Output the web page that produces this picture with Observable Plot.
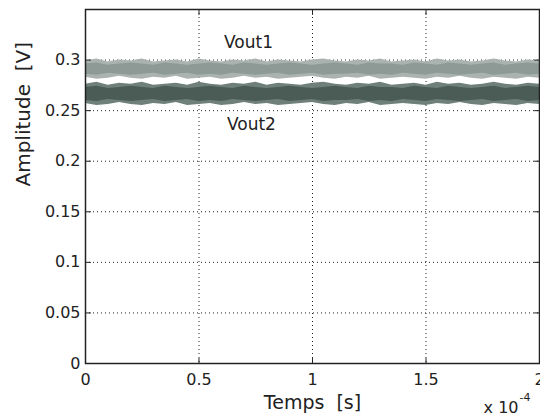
<!DOCTYPE html>
<html>
<head>
<meta charset="utf-8">
<script src="https://cdn.jsdelivr.net/npm/d3@7"></script>
<script src="https://cdn.jsdelivr.net/npm/@observablehq/plot@0.6"></script>
<style>
  html, body { margin: 0; padding: 0; background: #fff; }
  #chart svg { display: block; }
</style>
</head>
<body>
<div id="chart"></div>
<script>
// time axis in units of 1e-4 s
const time = [0,0.05,0.1,0.15,0.2,0.25,0.3,0.35,0.4,0.45,0.5,0.55,0.6,0.65,0.7,0.75,0.8,0.85,0.9,0.95,1,
  1.05,1.1,1.15,1.2,1.25,1.3,1.35,1.4,1.45,1.5,1.55,1.6,1.65,1.7,1.75,1.8,1.85,1.9,1.95,2];

// Vout1 noise envelope (outer and dense core), in V
const vout1Top = [0.299,0.301,0.298,0.300,0.299,0.301,0.298,0.299,0.300,0.298,
  0.301,0.299,0.298,0.300,0.299,0.301,0.298,0.300,0.299,0.298,
  0.300,0.301,0.299,0.298,0.300,0.299,0.301,0.298,0.299,0.300,
  0.298,0.301,0.299,0.300,0.298,0.299,0.301,0.299,0.298,0.300,0.299];
const vout1Bottom = [0.283,0.281,0.282,0.284,0.282,0.281,0.283,0.282,0.284,0.281,
  0.282,0.283,0.281,0.282,0.284,0.282,0.283,0.281,0.282,0.283,
  0.284,0.282,0.281,0.283,0.282,0.284,0.281,0.282,0.283,0.282,
  0.281,0.283,0.282,0.284,0.282,0.281,0.283,0.282,0.281,0.283,0.282];
const vout1CoreTop = [0.296,0.297,0.295,0.296,0.297,0.296,0.295,0.297,0.296,0.295,
  0.296,0.297,0.296,0.295,0.297,0.296,0.295,0.296,0.297,0.296,
  0.295,0.296,0.297,0.296,0.295,0.297,0.296,0.296,0.295,0.297,
  0.296,0.295,0.297,0.296,0.295,0.296,0.297,0.295,0.296,0.297,0.296];
const vout1CoreBottom = [0.286,0.285,0.287,0.286,0.285,0.286,0.287,0.285,0.286,0.287,
  0.285,0.286,0.285,0.287,0.286,0.285,0.286,0.287,0.285,0.286,
  0.287,0.285,0.286,0.286,0.287,0.285,0.286,0.285,0.287,0.286,
  0.285,0.287,0.286,0.285,0.286,0.287,0.285,0.286,0.287,0.285,0.286];

// Vout2 noise envelope (outer and dense core), in V
const vout2Top = [0.276,0.278,0.275,0.277,0.276,0.278,0.275,0.276,0.277,0.275,
  0.278,0.276,0.275,0.277,0.276,0.278,0.275,0.277,0.276,0.275,
  0.277,0.278,0.276,0.275,0.277,0.276,0.278,0.275,0.276,0.277,
  0.275,0.278,0.276,0.277,0.275,0.276,0.278,0.276,0.275,0.277,0.276];
const vout2Bottom = [0.257,0.255,0.256,0.258,0.256,0.255,0.257,0.256,0.258,0.255,
  0.256,0.257,0.255,0.256,0.258,0.256,0.257,0.255,0.256,0.257,
  0.258,0.256,0.255,0.257,0.256,0.258,0.255,0.256,0.257,0.256,
  0.255,0.257,0.256,0.258,0.256,0.255,0.257,0.256,0.255,0.257,0.256];
const vout2CoreTop = [0.273,0.274,0.272,0.273,0.274,0.273,0.272,0.274,0.273,0.272,
  0.273,0.274,0.273,0.272,0.274,0.273,0.272,0.273,0.274,0.273,
  0.272,0.273,0.274,0.273,0.272,0.274,0.273,0.273,0.272,0.274,
  0.273,0.272,0.274,0.273,0.272,0.273,0.274,0.272,0.273,0.274,0.273];
const vout2CoreBottom = [0.260,0.259,0.261,0.260,0.259,0.260,0.261,0.259,0.260,0.261,
  0.259,0.260,0.259,0.261,0.260,0.259,0.260,0.261,0.259,0.260,
  0.261,0.259,0.260,0.260,0.261,0.259,0.260,0.259,0.261,0.260,
  0.259,0.261,0.260,0.259,0.260,0.261,0.259,0.260,0.261,0.259,0.260];

// ticks and labels
const xTicks = [0, 0.5, 1, 1.5, 2];
const xTickLabels = ["0", "0.5", "1", "1.5", "2"];
const yTicks = [0, 0.05, 0.1, 0.15, 0.2, 0.25, 0.3];
const yTickLabels = ["0", "0.05", "0.1", "0.15", "0.2", "0.25", "0.3"];
const seriesNames = ["Vout1", "Vout2"];
const seriesLabelX = [0.718, 0.731];
const seriesLabelY = [0.317, 0.2365];

const rows = time.map((t, i) => ({
  t,
  v1t: vout1Top[i], v1b: vout1Bottom[i], v1ct: vout1CoreTop[i], v1cb: vout1CoreBottom[i],
  v2t: vout2Top[i], v2b: vout2Bottom[i], v2ct: vout2CoreTop[i], v2cb: vout2CoreBottom[i]
}));
const labels = seriesNames.map((name, i) => ({name, x: seriesLabelX[i], y: seriesLabelY[i]}));

const tickShape = {draw(context, l) { context.moveTo(0, 0); context.lineTo(0, -l); }};
const gridX = xTicks.slice(1, -1);
const gridY = yTicks.slice(1);
const ink = "#222";
const font = "'DejaVu Sans', Verdana, sans-serif";

const chart = Plot.plot({
  width: 540,
  height: 420,
  marginLeft: 85,
  marginRight: 1,
  marginTop: 9,
  marginBottom: 57,
  style: {fontFamily: font, color: ink, background: "#fff"},
  x: {domain: [0, 2]},
  y: {domain: [0, 0.35]},
  marks: [
    Plot.ruleX(gridX, {stroke: "#222", strokeDasharray: "1,3", strokeWidth: 1}),
    Plot.ruleY(gridY, {stroke: "#222", strokeDasharray: "1,3", strokeWidth: 1}),
    Plot.areaY(rows, {x: "t", y1: "v1b", y2: "v1t", fill: "#aab3af"}),
    Plot.areaY(rows, {x: "t", y1: "v1cb", y2: "v1ct", fill: "#8e9a95"}),
    Plot.areaY(rows, {x: "t", y1: "v2b", y2: "v2t", fill: "#6f7f79"}),
    Plot.areaY(rows, {x: "t", y1: "v2cb", y2: "v2ct", fill: "#4a5c55"}),
    Plot.text(labels, {x: "x", y: "y", text: "name", fontSize: 17, fill: ink}),
    // inward tick marks on all four sides
    Plot.vector(yTicks, {x: 0, y: d => d, length: 5, rotate: 90, anchor: "start", shape: tickShape, stroke: ink, strokeWidth: 1}),
    Plot.vector(yTicks, {x: 2, y: d => d, length: 5, rotate: -90, anchor: "start", shape: tickShape, stroke: ink, strokeWidth: 1}),
    Plot.vector(xTicks, {x: d => d, y: 0, length: 5, rotate: 0, anchor: "start", shape: tickShape, stroke: ink, strokeWidth: 1}),
    Plot.vector(xTicks, {x: d => d, y: 0.35, length: 5, rotate: 180, anchor: "start", shape: tickShape, stroke: ink, strokeWidth: 1}),
    Plot.axisY(yTicks, {tickSize: 0, tickPadding: 5, fontSize: 16, tickFormat: (d, i) => yTickLabels[i], label: null, fill: ink}),
    Plot.axisX(xTicks, {tickSize: 0, tickPadding: 10, fontSize: 16, tickFormat: (d, i) => xTickLabels[i], label: null, fill: ink}),
    Plot.frame({stroke: ink, strokeWidth: 1.5}),
    Plot.text(["Amplitude  [V]"], {frameAnchor: "left", dx: -62, rotate: -90, fontSize: 20, fill: ink}),
    Plot.text(["Temps  [s]"], {frameAnchor: "bottom", dy: 45, fontSize: 19, fill: ink}),
    Plot.text(["x 10"], {frameAnchor: "bottom-right", textAnchor: "end", dx: -21, dy: 49, fontSize: 16, fill: ink}),
    Plot.text(["-4"], {frameAnchor: "bottom-right", textAnchor: "start", dx: -20, dy: 37, fontSize: 11, fill: ink})
  ]
});
document.getElementById("chart").append(chart);
</script>
</body>
</html>
